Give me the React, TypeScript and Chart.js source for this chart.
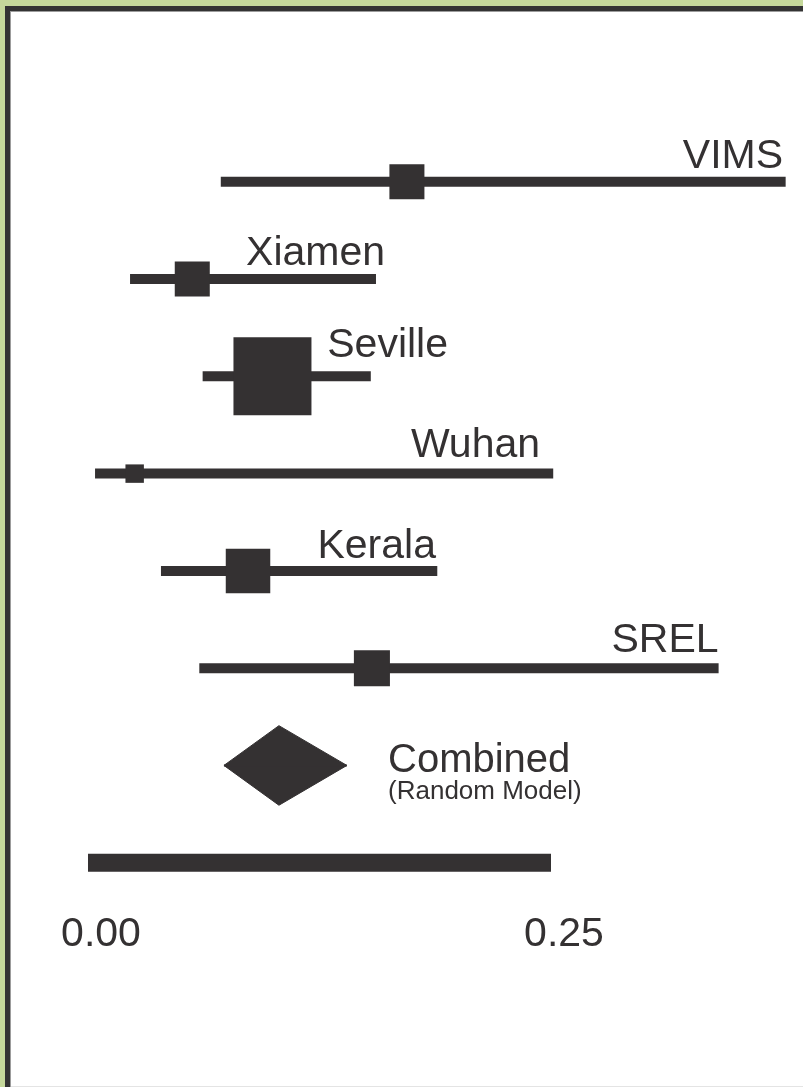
import React, { useEffect, useRef } from 'react';
import { Chart, registerables } from 'chart.js';

Chart.register(...registerables);

// ---------------- data ----------------
const STUDIES = ['VIMS', 'Xiamen', 'Seville', 'Wuhan', 'Kerala', 'SREL'];
const ESTIMATE = [0.1722, 0.0563, 0.0996, 0.0252, 0.0864, 0.1533];
const LOWER = [0.0717, 0.0227, 0.0619, 0.0038, 0.0394, 0.0601];
const UPPER = [0.3767, 0.1555, 0.1527, 0.2512, 0.1886, 0.3405];
const WEIGHTS = [10.1, 10.1, 50.1, 2.8, 16.3, 10.7];
const COMBINED_LABEL = 'Combined';
const COMBINED_SUBLABEL = '(Random Model)';
const COMBINED_LOWER = 0.0734;
const COMBINED_ESTIMATE = 0.1031;
const COMBINED_UPPER = 0.1398;
const AXIS_TICKS = [0, 0.25];

// ---------------- layout / style ----------------
const W = 803;
const H = 1087;
const DARK = '#343132';
const FONT = "'Liberation Sans', Arial, Helvetica, sans-serif";
const X_MIN = -0.047516;
const X_MAX = 0.386069;
const Y_MIN = -1.8688;
const Y_MAX = 7.194;
const BOX_SCALE = 11.02; // px per sqrt(weight)
const DIAMOND_HALF = 0.409; // row units
const DIAMOND_OVERLAP = 0.01; // row units, hides the seam between halves
// label placement: right edge (in x units) and raise above the row (px)
const LABEL_RIGHT = [0.3753, 0.1604, 0.1944, 0.2441, 0.1879, 0.3405];
const LABEL_RAISE = [13.5, 13.6, 19.7, 16.8, 12.6, 15.7];
const COMBINED_TEXT_X = 0.162;

const framePlugin = {
  id: 'frame',
  beforeDraw(chart: any) {
    const ctx = chart.ctx;
    ctx.save();
    ctx.fillStyle = '#c5d89b';
    ctx.fillRect(0, 0, W, H);
    ctx.fillStyle = '#333333';
    ctx.fillRect(5, 6, W - 5, H - 6);
    ctx.fillStyle = '#9c9c9c';
    ctx.fillRect(10, 11, W - 10, H - 11);
    ctx.fillStyle = '#ffffff';
    ctx.fillRect(11, 12, W - 11, H - 13);
    ctx.fillStyle = '#e4e4e4';
    ctx.fillRect(11, H - 1, W - 11, 1);
    ctx.restore();
  },
};

const labelPlugin = {
  id: 'labels',
  afterDatasetsDraw(chart: any) {
    const { ctx, scales } = chart;
    const xs = scales.x;
    const ys = scales.y;
    ctx.save();
    ctx.fillStyle = DARK;
    ctx.textBaseline = 'alphabetic';
    ctx.textAlign = 'right';
    ctx.font = `41px ${FONT}`;
    STUDIES.forEach((name, i) => {
      ctx.fillText(name, xs.getPixelForValue(LABEL_RIGHT[i]), ys.getPixelForValue(i) - LABEL_RAISE[i]);
    });
    const row = STUDIES.length;
    ctx.textAlign = 'left';
    ctx.font = `40px ${FONT}`;
    ctx.fillText(COMBINED_LABEL, xs.getPixelForValue(COMBINED_TEXT_X), ys.getPixelForValue(row) + 6.6);
    ctx.font = `26px ${FONT}`;
    ctx.fillText(COMBINED_SUBLABEL, xs.getPixelForValue(COMBINED_TEXT_X), ys.getPixelForValue(row) + 34);
    ctx.restore();
  },
};

export default function App() {
  const ref = useRef<HTMLCanvasElement | null>(null);

  useEffect(() => {
    if (!ref.current) return;
    const combinedRow = STUDIES.length;
    const axisRow = STUDIES.length + 1;

    const ciSets = STUDIES.map((s, i) => ({
      type: 'line',
      label: s,
      data: [
        { x: LOWER[i], y: i },
        { x: UPPER[i], y: i },
      ],
      borderColor: DARK,
      borderWidth: 10,
      borderCapStyle: 'butt',
      pointRadius: 0,
      fill: false,
      clip: false,
      order: 2,
    }));

    const boxes = {
      type: 'scatter',
      label: 'estimates',
      data: ESTIMATE.map((v, i) => ({ x: v, y: i })),
      pointStyle: 'rect',
      pointRadius: WEIGHTS.map((w) => (BOX_SCALE * Math.sqrt(w)) / Math.SQRT2),
      pointBackgroundColor: DARK,
      pointBorderWidth: 0,
      pointBorderColor: DARK,
      clip: false,
      order: 1,
    };

    const diamondUpper = {
      type: 'line',
      label: 'combined-upper',
      data: [
        { x: COMBINED_LOWER, y: combinedRow },
        { x: COMBINED_ESTIMATE, y: combinedRow - DIAMOND_HALF },
        { x: COMBINED_UPPER, y: combinedRow },
      ],
      borderColor: DARK,
      backgroundColor: DARK,
      borderWidth: 1,
      pointRadius: 0,
      tension: 0,
      fill: { value: combinedRow + DIAMOND_OVERLAP },
      clip: false,
    };
    const diamondLower = {
      ...diamondUpper,
      label: 'combined-lower',
      data: [
        { x: COMBINED_LOWER, y: combinedRow },
        { x: COMBINED_ESTIMATE, y: combinedRow + DIAMOND_HALF },
        { x: COMBINED_UPPER, y: combinedRow },
      ],
      fill: { value: combinedRow - DIAMOND_OVERLAP },
    };

    const axisBar = {
      type: 'line',
      label: 'axis',
      data: [
        { x: AXIS_TICKS[0], y: axisRow },
        { x: AXIS_TICKS[AXIS_TICKS.length - 1], y: axisRow },
      ],
      borderColor: DARK,
      borderWidth: 18,
      borderCapStyle: 'butt',
      pointRadius: 0,
      fill: false,
      clip: false,
    };

    const chart = new Chart(ref.current, {
      type: 'scatter',
      data: { datasets: [...ciSets, boxes, diamondUpper, diamondLower, axisBar] as any },
      options: {
        animation: false,
        responsive: false,
        events: [],
        layout: { autoPadding: false, padding: { left: 0, right: 0, top: 0, bottom: 99.4 } },
        plugins: { legend: { display: false }, tooltip: { enabled: false }, title: { display: false } },
        scales: {
          x: {
            type: 'linear',
            min: X_MIN,
            max: X_MAX,
            grid: { display: false, drawTicks: false },
            border: { display: false },
            afterBuildTicks: (axis: any) => {
              axis.ticks = AXIS_TICKS.map((v) => ({ value: v }));
            },
            ticks: {
              padding: 28.4,
              labelOffset: 13,
              maxRotation: 0,
              autoSkip: false,
              color: DARK,
              font: { family: FONT, size: 41 },
              callback: (v: any) => Number(v).toFixed(2),
            },
          },
          y: {
            type: 'linear',
            display: false,
            reverse: true,
            min: Y_MIN,
            max: Y_MAX,
          },
        },
      } as any,
      plugins: [framePlugin, labelPlugin],
    });
    return () => chart.destroy();
  }, []);

  return (
    <div style={{ position: 'absolute', left: 0, top: 0, width: W, height: H }}>
      <canvas ref={ref} width={W} height={H} style={{ display: 'block', width: W, height: H }} />
    </div>
  );
}
